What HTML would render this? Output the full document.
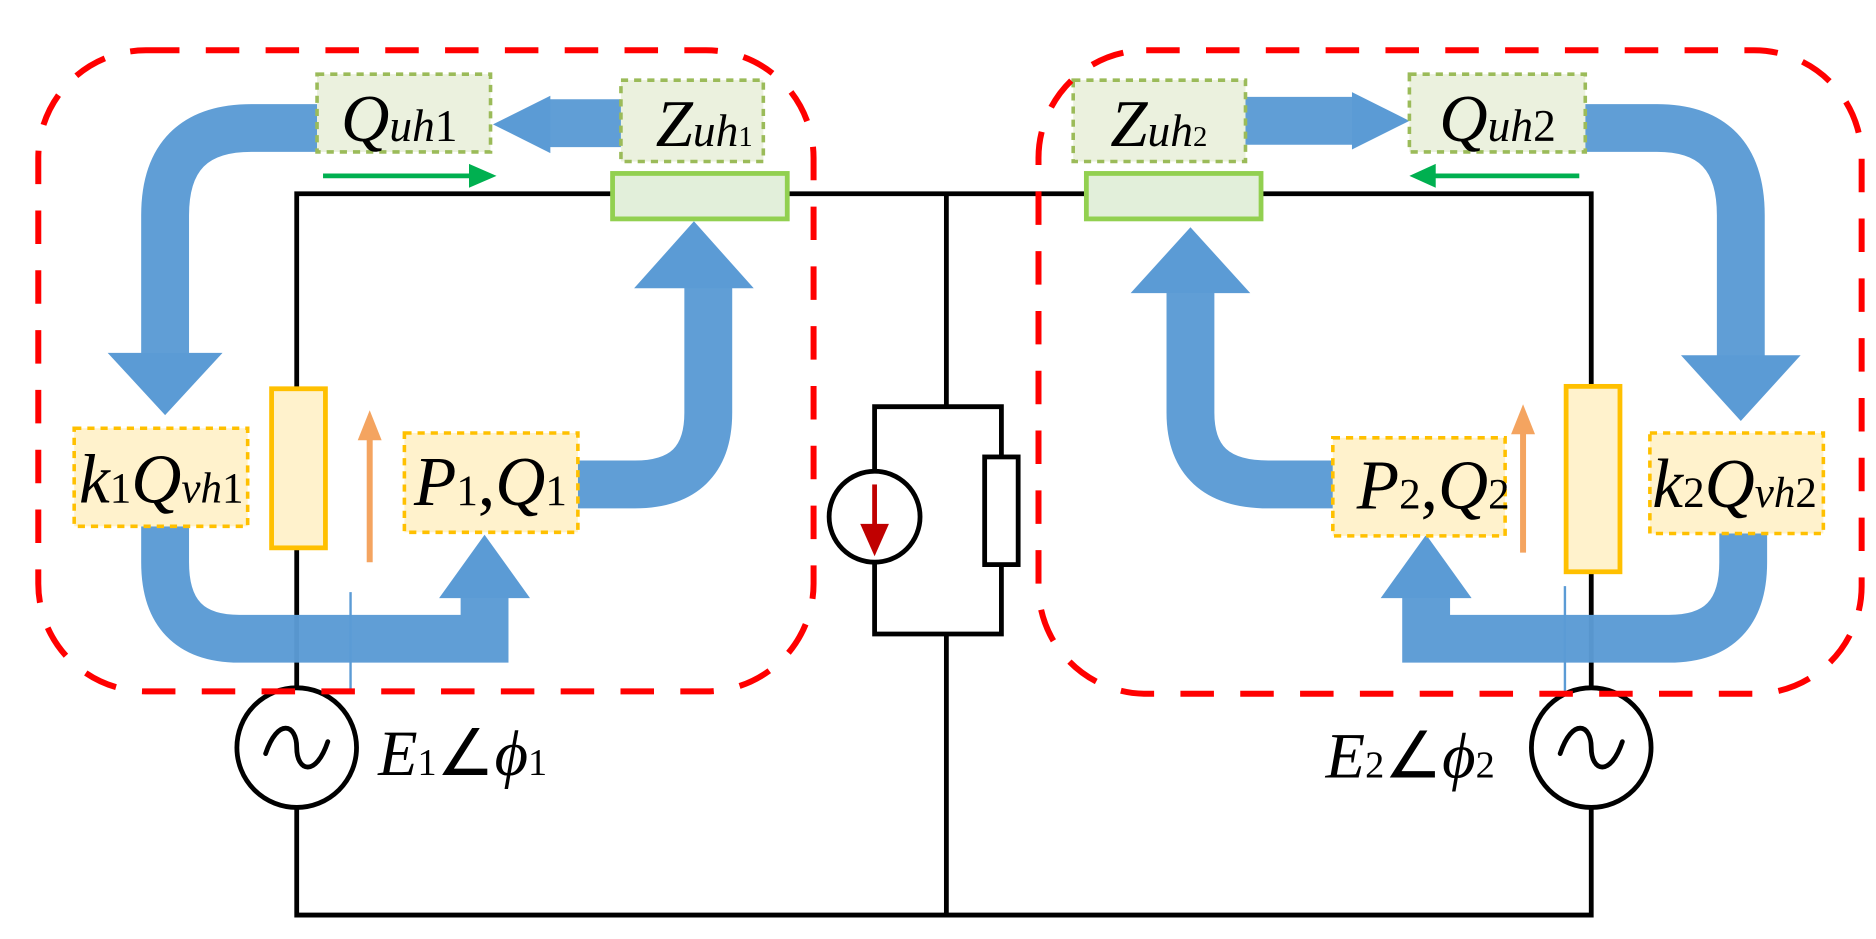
<!DOCTYPE html>
<html><head><meta charset="utf-8"><style>
html,body{margin:0;padding:0;background:#fff;}
svg{display:block;}
text{font-family:"Liberation Serif","Times New Roman",serif;font-style:italic;fill:#000;}
</style></head><body>
<svg width="1876" height="939" viewBox="0 0 1568 785" preserveAspectRatio="none" xmlns="http://www.w3.org/2000/svg">
<g stroke="#000" stroke-width="4" fill="none">
<path d="M248 162 H1330 V765 H248 Z"/>
<path d="M791 162 V340 M791 530 V765"/>
<path d="M731 340 H837 V530 H731 Z"/>
</g>
<circle cx="731" cy="432" r="38" fill="#fff" stroke="#000" stroke-width="4"/>
<path d="M731 405 V440" stroke="#c00000" stroke-width="4"/>
<polygon points="719,438 743,438 731,465" fill="#c00000"/>
<rect x="823" y="382" width="28" height="90" fill="#fff" stroke="#000" stroke-width="4"/>
<g fill="#fff" stroke="#000" stroke-width="4">
<circle cx="248" cy="625" r="50"/>
<circle cx="1330" cy="625" r="50"/>
</g>
<g fill="none" stroke="#000" stroke-width="4" stroke-linecap="round">
<path d="M222 630 C232 600 248 605 248 625 C248 645 264 650 274 620"/>
<path d="M1304 630 C1314 600 1330 605 1330 625 C1330 645 1346 650 1356 620"/>
</g>
<rect x="227" y="325" width="45" height="133" fill="#fff2cc" stroke="#ffc000" stroke-width="4"/>
<rect x="1309" y="323" width="45" height="155" fill="#fff2cc" stroke="#ffc000" stroke-width="4"/>
<rect x="512" y="145" width="146" height="38" fill="#e2efda" stroke="#92d050" stroke-width="4"/>
<rect x="908" y="145" width="146" height="38" fill="#e2efda" stroke="#92d050" stroke-width="4"/>
<g fill="none" stroke="#5b9bd5" stroke-width="40" opacity="0.97">
<path d="M265 107 H210 Q138 107 138 180 V300"/>
<path d="M138 440 V470 Q138 534 200 534 H405 V495"/>
<path d="M483 405 H530 Q592 405 592 345 V235"/>
<path d="M519 103 H455"/>
<path d="M1041 101 H1135"/>
<path d="M1325 107 H1385 Q1455 107 1455 180 V300"/>
<path d="M1457 446 V470 Q1457 534 1395 534 H1192 V495"/>
<path d="M1114 405 H1060 Q995 405 995 345 V240"/>
</g>
<g fill="#5b9bd5">
<polygon points="90,295 186,295 138,347"/>
<polygon points="367,500 443,500 405,447"/>
<polygon points="530,241 630,241 580,185"/>
<polygon points="460,80 460,128 412,104"/>
<polygon points="1130,77 1130,125 1178,101"/>
<polygon points="1405,297 1505,297 1455,352"/>
<polygon points="1154,500 1230,500 1192,447"/>
<polygon points="945,245 1045,245 995,190"/>
</g>
<path d="M293 495 V578 M1308 490 V578" stroke="#5b9bd5" stroke-width="2"/>
<g stroke-width="3" stroke-dasharray="6,5">
<rect x="265" y="62" width="145" height="65" fill="#ebf1de" stroke="#9bbb59"/>
<rect x="519" y="67" width="119" height="68" fill="#ebf1de" stroke="#9bbb59"/>
<rect x="897" y="67" width="144" height="68" fill="#ebf1de" stroke="#9bbb59"/>
<rect x="1178" y="62" width="147" height="65" fill="#ebf1de" stroke="#9bbb59"/>
<rect x="62" y="358" width="145" height="82" fill="#fff2cc" stroke="#ffc000"/>
<rect x="338" y="362" width="145" height="83" fill="#fff2cc" stroke="#ffc000"/>
<rect x="1114" y="366" width="144" height="82" fill="#fff2cc" stroke="#ffc000"/>
<rect x="1379" y="362" width="145" height="84" fill="#fff2cc" stroke="#ffc000"/>
</g>
<path d="M270 147 H395" stroke="#00b050" stroke-width="4"/>
<polygon points="392,137 392,157 415,147" fill="#00b050"/>
<path d="M1320 147 H1198" stroke="#00b050" stroke-width="4"/>
<polygon points="1200,137 1200,157 1178,147" fill="#00b050"/>
<path d="M309 470 V365" stroke="#f4a460" stroke-width="5"/>
<polygon points="299,368 319,368 309,343" fill="#f4a460"/>
<path d="M1273 462 V360" stroke="#f4a460" stroke-width="5"/>
<polygon points="1263,363 1283,363 1273,338" fill="#f4a460"/>
<g fill="none" stroke="#ff0000" stroke-width="5" stroke-dasharray="28,22">
<rect x="32" y="42" width="648" height="536" rx="90"/>
<rect x="868" y="42" width="688" height="538" rx="90"/>
</g>
<text x="285" y="118" font-size="56">Q<tspan font-size="38">uh</tspan><tspan font-size="38" font-style="normal">1</tspan></text>
<text x="548" y="122" font-size="56">Z<tspan font-size="38">uh</tspan><tspan font-size="24" font-style="normal">1</tspan></text>
<text x="928" y="122" font-size="56">Z<tspan font-size="38">uh</tspan><tspan font-size="24" font-style="normal">2</tspan></text>
<text x="1203" y="118" font-size="56">Q<tspan font-size="38">uh</tspan><tspan font-size="38" font-style="normal">2</tspan></text>
<text x="66" y="420" font-size="58">k<tspan font-size="36" font-style="normal">1</tspan>Q<tspan font-size="36">vh</tspan><tspan font-size="36" font-style="normal">1</tspan></text>
<text x="346" y="422" font-size="58">P<tspan font-size="36" font-style="normal">1</tspan><tspan font-style="normal">,</tspan>Q<tspan font-size="36" font-style="normal">1</tspan></text>
<text x="1134" y="425" font-size="58">P<tspan font-size="36" font-style="normal">2</tspan><tspan font-style="normal">,</tspan>Q<tspan font-size="36" font-style="normal">2</tspan></text>
<text x="1381" y="424" font-size="58">k<tspan font-size="36" font-style="normal">2</tspan>Q<tspan font-size="36">vh</tspan><tspan font-size="36" font-style="normal">2</tspan></text>
<text x="316" y="648" font-size="54">E<tspan font-size="32" font-style="normal">1</tspan><tspan font-style="normal">∠</tspan>ϕ<tspan font-size="32" font-style="normal">1</tspan></text>
<text x="1108" y="650" font-size="54">E<tspan font-size="32" font-style="normal">2</tspan><tspan font-style="normal">∠</tspan>ϕ<tspan font-size="32" font-style="normal">2</tspan></text>
</svg>
</body></html>
